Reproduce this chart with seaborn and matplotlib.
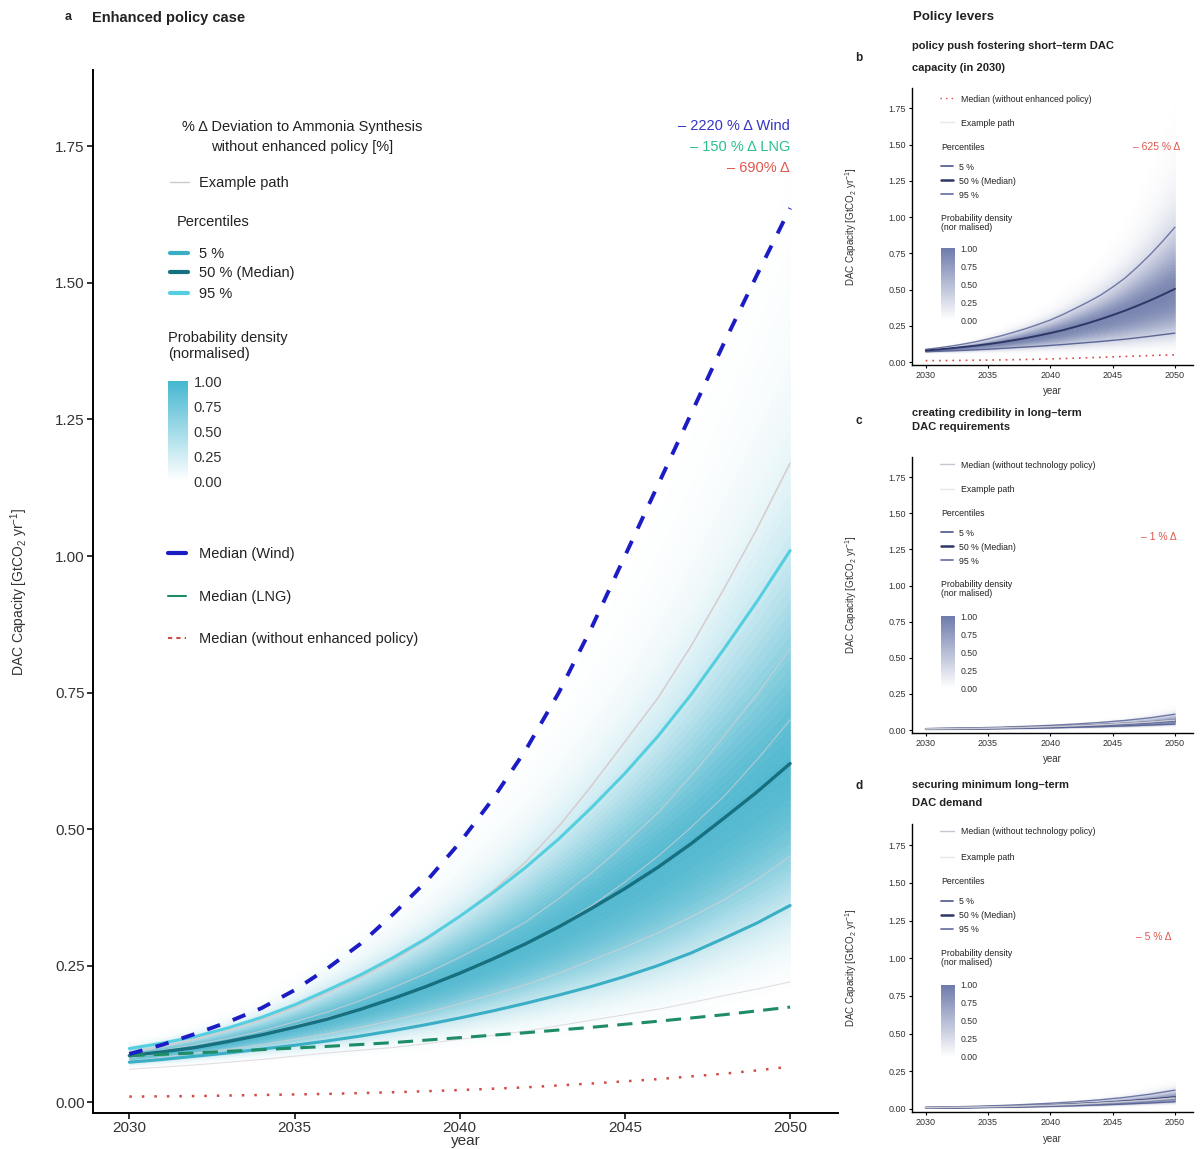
import numpy as np
import matplotlib
matplotlib.use("Agg")
import matplotlib.pyplot as plt
import seaborn as sns
from matplotlib.lines import Line2D
from matplotlib.legend import Legend
from matplotlib.colors import LinearSegmentedColormap, Normalize, to_rgb
from matplotlib.cm import ScalarMappable

sns.set_theme(style="ticks")
plt.rcParams['font.family'] = ['Liberation Sans', 'DejaVu Sans']
plt.rcParams['mathtext.default'] = 'regular'

# ---------------- data ----------------
years = list(range(2030, 2051))
years_2y = list(range(2030, 2051, 2))

# panel a: enhanced policy case (annual)
p5 = [0.073, 0.078, 0.084, 0.09, 0.097, 0.104, 0.112, 0.121, 0.131, 0.142, 0.154,
      0.167, 0.181, 0.196, 0.212, 0.23, 0.25, 0.273, 0.30, 0.328, 0.36]
p50 = [0.085, 0.092, 0.10, 0.111, 0.123, 0.137, 0.152, 0.17, 0.19, 0.212, 0.236,
       0.262, 0.29, 0.321, 0.355, 0.391, 0.43, 0.473, 0.52, 0.568, 0.62]
p95 = [0.098, 0.108, 0.12, 0.136, 0.155, 0.178, 0.205, 0.233, 0.265, 0.30, 0.34,
       0.383, 0.43, 0.482, 0.54, 0.602, 0.67, 0.746, 0.83, 0.917, 1.01]
wind = [0.088, 0.105, 0.125, 0.147, 0.172, 0.205, 0.245, 0.29, 0.345, 0.405, 0.475,
        0.555, 0.645, 0.75, 0.87, 1.00, 1.13, 1.26, 1.39, 1.515, 1.637]
lng = [0.085, 0.0875, 0.09, 0.093, 0.096, 0.099, 0.102, 0.1055, 0.109, 0.1135, 0.118,
       0.1225, 0.127, 0.132, 0.137, 0.1425, 0.148, 0.154, 0.16, 0.167, 0.174]
no_policy = [0.01, 0.0105, 0.011, 0.012, 0.013, 0.014, 0.015, 0.0165, 0.018, 0.02, 0.022,
             0.0245, 0.027, 0.0305, 0.034, 0.038, 0.042, 0.047, 0.052, 0.058, 0.065]
example_top = [0.09, 0.102, 0.115, 0.131, 0.15, 0.173, 0.20, 0.228, 0.26, 0.297, 0.34,
               0.387, 0.44, 0.505, 0.58, 0.66, 0.74, 0.835, 0.94, 1.05, 1.17]
example_inner = [
    [0.085, 0.095, 0.105, 0.117, 0.13, 0.147, 0.165, 0.186, 0.21, 0.236, 0.265,
     0.296, 0.33, 0.373, 0.42, 0.473, 0.53, 0.597, 0.67, 0.747, 0.83],
    [0.08, 0.09, 0.10, 0.112, 0.125, 0.14, 0.155, 0.172, 0.19, 0.211, 0.235,
     0.261, 0.29, 0.323, 0.36, 0.403, 0.45, 0.503, 0.56, 0.627, 0.70],
    [0.075, 0.082, 0.09, 0.097, 0.105, 0.115, 0.125, 0.137, 0.15, 0.164, 0.18,
     0.197, 0.215, 0.236, 0.26, 0.284, 0.31, 0.339, 0.37, 0.408, 0.45],
    [0.06, 0.064, 0.068, 0.073, 0.078, 0.084, 0.09, 0.095, 0.10, 0.107, 0.115,
     0.122, 0.13, 0.14, 0.15, 0.16, 0.17, 0.182, 0.195, 0.207, 0.22],
]
deltas = ["– 2220 % Δ Wind", "– 150 % Δ LNG", "– 690% Δ"]

# panel b: policy push fostering short-term DAC capacity (annual)
b_p5 = [0.072, 0.075, 0.078, 0.081, 0.085, 0.089, 0.094, 0.099, 0.104, 0.109, 0.115,
        0.121, 0.128, 0.135, 0.142, 0.15, 0.158, 0.168, 0.178, 0.189, 0.20]
b_p50 = [0.08, 0.087, 0.095, 0.104, 0.113, 0.124, 0.136, 0.15, 0.165, 0.182, 0.20,
         0.22, 0.243, 0.268, 0.295, 0.324, 0.355, 0.389, 0.425, 0.464, 0.505]
b_p95 = [0.088, 0.098, 0.11, 0.124, 0.14, 0.159, 0.18, 0.204, 0.23, 0.259, 0.29,
         0.328, 0.37, 0.413, 0.46, 0.517, 0.58, 0.657, 0.74, 0.832, 0.93]
b_ref = [0.01, 0.0105, 0.011, 0.012, 0.013, 0.014, 0.015, 0.0165, 0.018, 0.02, 0.022,
         0.0245, 0.027, 0.03, 0.033, 0.036, 0.039, 0.042, 0.045, 0.048, 0.05]

# panel c: credibility in long-term DAC requirements (every 2 years)
c_p5 = [0.006, 0.007, 0.009, 0.011, 0.013, 0.016, 0.02, 0.024, 0.029, 0.035, 0.042]
c_p50 = [0.008, 0.01, 0.012, 0.015, 0.019, 0.024, 0.03, 0.037, 0.045, 0.055, 0.068]
c_p95 = [0.01, 0.013, 0.016, 0.02, 0.026, 0.033, 0.042, 0.053, 0.067, 0.085, 0.11]
c_ref = [0.008, 0.01, 0.012, 0.015, 0.019, 0.024, 0.03, 0.037, 0.046, 0.056, 0.069]

# panel d: minimum long-term DAC demand (every 2 years)
d_p5 = [0.007, 0.008, 0.01, 0.012, 0.014, 0.018, 0.022, 0.027, 0.033, 0.04, 0.048]
d_p50 = [0.009, 0.011, 0.013, 0.016, 0.02, 0.026, 0.033, 0.041, 0.051, 0.063, 0.078]
d_p95 = [0.011, 0.014, 0.018, 0.023, 0.03, 0.038, 0.048, 0.061, 0.077, 0.098, 0.125]
d_ref = [0.009, 0.011, 0.013, 0.016, 0.02, 0.025, 0.031, 0.039, 0.048, 0.059, 0.073]

TEAL = '#36adc8'
SLATE = '#56659c'
RED = '#d24a44'
W, H = 1204, 1149
YLAB = 'DAC Capacity [GtCO$_2$ yr$^{-1}$]'

fig = plt.figure(figsize=(W / 100, H / 100), dpi=100)


def fx(x):
    return x / W


def fy(y):
    return 1 - y / H


def txt(x, y, s, **kw):
    kw.setdefault('va', 'center')
    kw.setdefault('color', '#222222')
    fig.text(fx(x), fy(y), s, **kw)


def key(x, y, handle, label, fs, hl=1.2, pad=0.7):
    leg = Legend(fig, [handle], [label], loc='center left',
                 bbox_to_anchor=(fx(x), fy(y)), bbox_transform=fig.transFigure,
                 frameon=False, borderpad=0, borderaxespad=0, handlelength=hl,
                 handletextpad=pad, prop={'size': fs}, labelcolor='#222222')
    fig.legends.append(leg)


def density(ax, xs, lo, mid, hi, color, kmax=0.85):
    lo, mid, hi = map(np.asarray, (lo, mid, hi))
    s_lo = np.log(mid / lo) / 1.645
    s_hi = np.log(hi / mid) / 1.645
    base = np.array(to_rgb(color))
    zs = np.linspace(-3.2, 3.4, 81)

    def q(z):
        return mid * np.exp(z * (s_lo if z < 0 else s_hi))

    for za, zb in zip(zs[:-1], zs[1:]):
        zm = 0.5 * (za + zb)
        k = kmax * np.exp(-zm ** 2 / 2.4)
        col = 1 - k * (1 - base)
        ax.fill_between(xs, q(za), q(zb), color=col, ec=col, lw=0.4, zorder=1)


def style_axes(ax, fs, lw, tl):
    ax.set_xlim(2028.9, 2051.45)
    ax.set_ylim(-0.02, 1.89)
    ax.set_xticks([2030, 2035, 2040, 2045, 2050])
    ax.set_yticks([0, 0.25, 0.5, 0.75, 1.0, 1.25, 1.5, 1.75])
    ax.set_yticklabels([f'{v:.2f}' for v in ax.get_yticks()])
    sns.despine(ax=ax)
    for s in ('left', 'bottom'):
        ax.spines[s].set_color('black')
        ax.spines[s].set_linewidth(lw)
    ax.tick_params(labelsize=fs, length=tl, width=lw * 0.8, colors='black',
                   labelcolor='#333333', pad=2)
    ax.set_facecolor('white')


def colorbar(x, y, w, h, cmap, fs):
    cax = fig.add_axes([fx(x), fy(y + h), w / W, h / H])
    cb = fig.colorbar(ScalarMappable(Normalize(0, 1), cmap), cax=cax)
    cb.outline.set_visible(False)
    cb.set_ticks([0, 0.25, 0.5, 0.75, 1.0])
    cb.set_ticklabels(['0.00', '0.25', '0.50', '0.75', '1.00'])
    cax.tick_params(length=0, labelsize=fs, labelcolor='#333333', pad=4)


# ---------------- panel a ----------------
ax = fig.add_axes([fx(93), fy(1113), (838 - 93) / W, (1113 - 70) / H])
density(ax, years, p5, p50, p95, TEAL)
for path in example_inner:
    sns.lineplot(x=years, y=path, ax=ax, color='#d8d0d4', lw=0.8, alpha=0.7, zorder=2)
sns.lineplot(x=years, y=example_top, ax=ax, color='#d6cccc', lw=1.1, zorder=2)
sns.lineplot(x=years, y=p5, ax=ax, color='#3aaec4', lw=2.2, zorder=3)
sns.lineplot(x=years, y=p95, ax=ax, color='#55cfe0', lw=2.2, zorder=3)
sns.lineplot(x=years, y=p50, ax=ax, color='#16707f', lw=2.4, zorder=3)
sns.lineplot(x=years, y=lng, ax=ax, color='#1e8c66', lw=2.2, linestyle=(0, (5, 3)), zorder=4)
sns.lineplot(x=years, y=wind, ax=ax, color='#1c1cc4', lw=2.8, linestyle=(0, (3.5, 3.5)), zorder=4)
sns.lineplot(x=years, y=no_policy, ax=ax, color=RED, lw=1.8, linestyle=(0, (1, 4)), zorder=4)
style_axes(ax, 11, 1.4, 4)
ax.set_xlabel('year', fontsize=11, color='#333333')
ax.xaxis.set_label_coords(0.5, -(1134 - 1113) / 1043)
ax.set_ylabel(YLAB, fontsize=10, color='#333333')
ax.yaxis.set_label_coords(-(93 - 30) / 745, 0.5)

txt(65, 17, 'a', fontsize=9, fontweight='bold')
txt(92, 18, 'Enhanced policy case', fontsize=10.5, fontweight='bold')
txt(302, 137, '% Δ Deviation to Ammonia Synthesis\nwithout enhanced policy [%]',
    fontsize=10.5, ha='center', multialignment='center', linespacing=1.55)
key(170, 183, Line2D([], [], color='#d0c8c8', lw=1), 'Example path', 10.5, hl=1.3, pad=0.7)
txt(177, 222, 'Percentiles', fontsize=10.5)
key(170, 254, Line2D([], [], color='#3aaec4', lw=3), '5 %', 10.5, hl=1.2, pad=0.8)
key(170, 273, Line2D([], [], color='#16707f', lw=3), '50 % (Median)', 10.5, hl=1.2, pad=0.8)
key(170, 294, Line2D([], [], color='#55cfe0', lw=3), '95 %', 10.5, hl=1.2, pad=0.8)
txt(168, 346, 'Probability density\n(normalised)', fontsize=10.5, linespacing=1.1)
colorbar(168, 381, 20, 100, LinearSegmentedColormap.from_list('t', ['#ffffff', '#45b7d1']), 10.5)
key(168, 554, Line2D([], [], color='#1c1cc4', lw=3), 'Median (Wind)', 10.5, hl=1.2, pad=0.9)
key(168, 597, Line2D([], [], color='#1e8c66', lw=1.5), 'Median (LNG)', 10.5, hl=1.2, pad=0.9)
key(168, 639, Line2D([], [], color=RED, lw=1.5, ls=(0, (2, 2))),
    'Median (without enhanced policy)', 10.5, hl=1.2, pad=0.9)
for s, yy, c in zip(deltas, [126, 147, 168], ['#3434c4', '#2cbf8a', '#e0574e']):
    txt(790, yy, s, fontsize=10.5, ha='right', color=c)

# ---------------- panels b, c, d ----------------
txt(913, 17, 'Policy levers', fontsize=9.5, fontweight='bold')

panels = [
    dict(top=88, bot=365, letter='b', ly=58, ty=57, xs=years,
         title='policy push fostering short–term DAC\ncapacity (in 2030)', tls=2.4,
         lo=b_p5, mid=b_p50, hi=b_p95, ref=b_ref, ref_col=RED, ref_ls=(0, (1, 3)),
         ref_lab='Median (without enhanced policy)', rows=[99, 123, 147, 167, 181, 195, 223],
         cb=248, delta='– 625 % Δ', dx=1180, dy=147),
    dict(top=457, bot=733, letter='c', ly=421, ty=420, xs=years_2y,
         title='creating credibility in long–term\nDAC requirements', tls=1.6,
         lo=c_p5, mid=c_p50, hi=c_p95, ref=c_ref, ref_col='#c8c8d4', ref_ls='-',
         ref_lab='Median (without technology policy)', rows=[465, 490, 513, 533, 547, 561, 589],
         cb=616, delta='– 1 % Δ', dx=1177, dy=537),
    dict(top=824, bot=1112, letter='d', ly=786, ty=794, xs=years_2y,
         title='securing minimum long–term\nDAC demand', tls=1.95,
         lo=d_p5, mid=d_p50, hi=d_p95, ref=d_ref, ref_col='#c8c8d4', ref_ls='-',
         ref_lab='Median (without technology policy)', rows=[832, 858, 882, 902, 916, 930, 958],
         cb=985, delta='– 5 % Δ', dx=1172, dy=937),
]
slate_cmap = LinearSegmentedColormap.from_list('s', ['#ffffff', '#6d7bab'])

for p in panels:
    xs = p['xs']
    axp = fig.add_axes([fx(912), fy(p['bot']), (1193 - 912) / W, (p['bot'] - p['top']) / H])
    density(axp, xs, p['lo'], p['mid'], p['hi'], SLATE, kmax=0.8)
    sns.lineplot(x=xs, y=p['lo'], ax=axp, color='#5b6596', lw=1.0, zorder=3)
    sns.lineplot(x=xs, y=p['hi'], ax=axp, color='#6f78a6', lw=1.0, zorder=3)
    sns.lineplot(x=xs, y=p['mid'], ax=axp, color='#2e3766', lw=1.4, zorder=3)
    sns.lineplot(x=xs, y=p['ref'], ax=axp, color=p['ref_col'], lw=1.2,
                 linestyle=p['ref_ls'], zorder=4)
    style_axes(axp, 6.5, 1.0, 2.5)
    axp.set_xlabel('year', fontsize=7, color='#333333')
    axp.xaxis.set_label_coords(0.5, -0.075)
    axp.set_ylabel(YLAB, fontsize=7, color='#333333')
    axp.yaxis.set_label_coords(-0.19, 0.5)

    txt(855, p['ly'], p['letter'], fontsize=8.5, fontweight='bold')
    txt(912, p['ty'], p['title'], fontsize=8, fontweight='bold', linespacing=p['tls'])
    r = p['rows']
    key(940, r[0], Line2D([], [], color=p['ref_col'], lw=1, ls=p['ref_ls']), p['ref_lab'], 6.3, hl=1.6, pad=0.8)
    key(940, r[1], Line2D([], [], color='#e6e6ec', lw=1), 'Example path', 6.3, hl=1.6, pad=0.8)
    txt(941, r[2], 'Percentiles', fontsize=6.3)
    key(941, r[3], Line2D([], [], color='#5b6596', lw=1.3), '5 %', 6.3, hl=1.4, pad=0.7)
    key(941, r[4], Line2D([], [], color='#2e3766', lw=1.8), '50 % (Median)', 6.3, hl=1.4, pad=0.7)
    key(941, r[5], Line2D([], [], color='#6f78a6', lw=1.3), '95 %', 6.3, hl=1.4, pad=0.7)
    txt(941, r[6], 'Probability density\n(nor malised)', fontsize=6.3, linespacing=1.05)
    colorbar(941, p['cb'], 14, 72, slate_cmap, 6.3)
    txt(p['dx'], p['dy'], p['delta'], fontsize=7.5, ha='right', color='#e0574e')

fig.savefig('out.png', dpi=100, facecolor='white')
